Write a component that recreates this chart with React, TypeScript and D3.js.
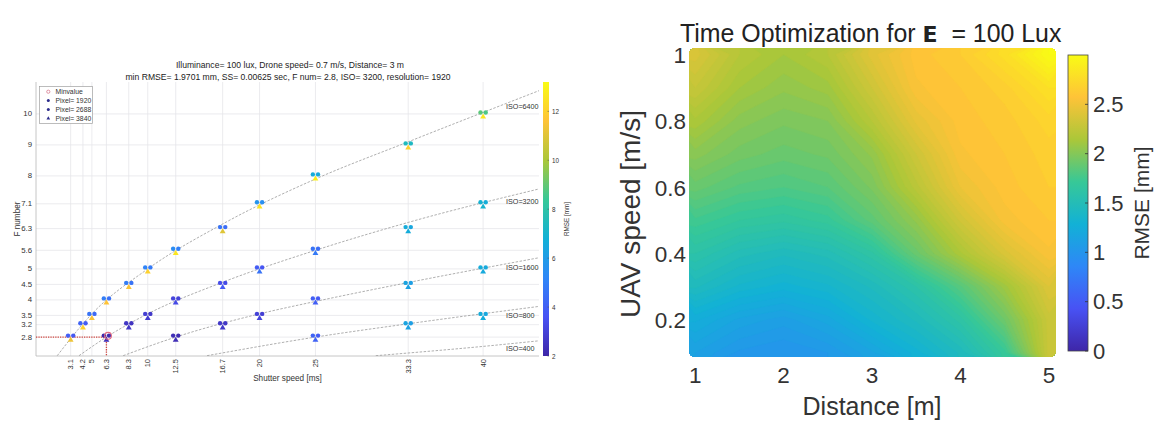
import React from 'react';
import * as d3 from 'd3';

const W = 1176;
const H = 425;
const FONT = '"Liberation Sans", Arial, Helvetica, sans-serif';

// ---------- Left chart data ----------
const shutterTicks = [3.1, 4.2, 5, 6.3, 8.3, 10, 12.5, 16.7, 20, 25, 33.3, 40];
const fnumTicks = [2.8, 3.2, 3.5, 4, 4.5, 5, 5.6, 6.3, 7.1, 8, 9, 10];
const rmseTicksLeft = [2, 4, 6, 8, 10, 12];

const iso6400Shutter = [3.1, 4.2, 5, 6.3, 8.3, 10, 12.5, 16.7, 20, 25, 33.3, 40];
const iso6400Fnum = [2.8, 3.2, 3.5, 4, 4.5, 5, 5.6, 6.3, 7.1, 8, 9, 10];
const iso6400Rmse1920 = [4.0, 4.1, 4.6, 4.9, 4.9, 5.1, 5.4, 4.6, 5.7, 6.6, 7.4, 8.9];
const iso6400Rmse2688 = [3.8, 3.9, 4.3, 4.5, 4.6, 4.8, 5.0, 4.4, 5.5, 6.5, 7.3, 8.7];
const iso6400Rmse3840 = [11.3, 12.0, 11.5, 11.6, 11.5, 12.0, 12.6, 11.0, 12.5, 12.8, 12.0, 12.6];

const iso3200Shutter = [6.3, 8.3, 10, 12.5, 16.7, 20, 25, 33.3, 40];
const iso3200Fnum = [2.8, 3.2, 3.5, 4, 4.5, 5, 5.6, 6.3, 7.1];
const iso3200Rmse1920 = [1.97, 2.6, 2.9, 3.1, 3.4, 3.9, 4.6, 6.6, 6.9];
const iso3200Rmse2688 = [2.2, 2.5, 2.7, 3.0, 3.3, 3.7, 4.4, 6.4, 6.7];
const iso3200Rmse3840 = [2.3, 2.6, 2.8, 3.3, 3.8, 4.6, 4.8, 6.6, 7.0];

const iso1600Shutter = [12.5, 16.7, 20, 25, 33.3, 40];
const iso1600Fnum = [2.8, 3.2, 3.5, 4, 4.5, 5];
const iso1600Rmse1920 = [2.3, 2.7, 3.0, 4.0, 6.3, 6.6];
const iso1600Rmse2688 = [2.2, 2.6, 2.9, 3.8, 6.1, 6.5];
const iso1600Rmse3840 = [2.3, 2.7, 3.1, 4.0, 6.2, 6.5];

const iso800Shutter = [25, 33.3, 40];
const iso800Fnum = [2.8, 3.2, 3.5];
const iso800Rmse1920 = [4.1, 6.3, 6.6];
const iso800Rmse2688 = [3.9, 6.1, 6.4];
const iso800Rmse3840 = [4.1, 6.2, 6.6];

// dashed ISO curves
const iso6400CurveT = [1.9, 5, 10, 16.7, 25, 33.3, 45];
const iso6400CurveF = [2.2, 3.55, 5.0, 6.45, 7.9, 9.1, 10.75];
const iso3200CurveT = [3.85, 6.3, 10, 16.7, 25, 33.3, 45];
const iso3200CurveF = [2.2, 2.8, 3.55, 4.57, 5.6, 6.5, 7.58];
const iso1600CurveT = [7.8, 12.5, 20, 25, 33.3, 45];
const iso1600CurveF = [2.2, 2.8, 3.55, 3.95, 4.56, 5.36];
const iso800CurveT = [15.3, 25, 33.3, 45];
const iso800CurveF = [2.2, 2.8, 3.23, 3.79];
const iso400CurveT = [30.4, 40, 45];
const iso400CurveF = [2.2, 2.5, 2.68];

const isoLabels = ['ISO=6400', 'ISO=3200', 'ISO=1600', 'ISO=800', 'ISO=400'];
const isoLabelF = [10.23, 7.16, 5.03, 3.49, 2.42];

const legendLabels = ['Minvalue', 'Pixel= 1920', 'Pixel= 2688', 'Pixel= 3840'];
const minShutter = 6.3;
const minFnum = 2.8;

// ---------- Right chart data ----------
const distances = [1, 1.5, 2, 2.5, 3, 3.5, 4, 4.5, 5];
const speeds = [1.0, 0.9, 0.8, 0.7, 0.6, 0.5, 0.4, 0.3, 0.2, 0.1];
const rmseV10 = [2.38, 2.2, 2.12, 2.2, 2.42, 2.58, 2.64, 2.78, 3.0];
const rmseV09 = [2.28, 2.12, 2.05, 2.1, 2.32, 2.55, 2.6, 2.66, 2.8];
const rmseV08 = [2.15, 2.02, 1.97, 2.0, 2.2, 2.45, 2.58, 2.62, 2.7];
const rmseV07 = [2.02, 1.94, 1.9, 1.93, 2.05, 2.32, 2.55, 2.6, 2.66];
const rmseV06 = [1.9, 1.83, 1.8, 1.84, 1.97, 2.22, 2.48, 2.58, 2.64];
const rmseV05 = [1.75, 1.68, 1.65, 1.7, 1.86, 2.05, 2.33, 2.54, 2.6];
const rmseV04 = [1.6, 1.5, 1.45, 1.5, 1.63, 1.9, 2.15, 2.38, 2.55];
const rmseV03 = [1.45, 1.35, 1.3, 1.35, 1.45, 1.6, 1.83, 2.1, 2.4];
const rmseV02 = [1.25, 1.15, 1.1, 1.18, 1.33, 1.45, 1.62, 1.92, 2.3];
const rmseV01 = [1.12, 1.03, 1.0, 1.04, 1.15, 1.3, 1.45, 1.7, 2.3];
const distTicks = [1, 2, 3, 4, 5];
const speedTicks = [0.2, 0.4, 0.6, 0.8, 1];
const rmseTicksRight = [0, 0.5, 1, 1.5, 2, 2.5];

// parula colormap stops
const PARULA = [
  'rgb(62,38,168)', 'rgb(72,82,244)', 'rgb(46,135,247)', 'rgb(18,177,214)',
  'rgb(55,200,151)', 'rgb(171,199,57)', 'rgb(254,195,56)', 'rgb(249,251,21)',
];
function parulaScale(lo: number, hi: number) {
  return d3
    .scaleLinear<string>()
    .domain(PARULA.map((_, i) => lo + (i * (hi - lo)) / (PARULA.length - 1)))
    .range(PARULA)
    .interpolate(d3.interpolateRgb)
    .clamp(true);
}

export default function App() {
  const x = d3.scaleLinear().domain([0, 45]).range([36, 539]);
  const y = d3.scaleLinear().domain([2.19, 11.03]).range([356, 82]);
  const cL = parulaScale(2, 13.2);
  const cbL = d3.scaleLinear().domain([2, 13.2]).range([356, 82]);

  const groups = [
    { t: iso6400Shutter, f: iso6400Fnum, a: iso6400Rmse1920, b: iso6400Rmse2688, c: iso6400Rmse3840 },
    { t: iso3200Shutter, f: iso3200Fnum, a: iso3200Rmse1920, b: iso3200Rmse2688, c: iso3200Rmse3840 },
    { t: iso1600Shutter, f: iso1600Fnum, a: iso1600Rmse1920, b: iso1600Rmse2688, c: iso1600Rmse3840 },
    { t: iso800Shutter, f: iso800Fnum, a: iso800Rmse1920, b: iso800Rmse2688, c: iso800Rmse3840 },
  ];
  const curves = [
    [iso6400CurveT, iso6400CurveF],
    [iso3200CurveT, iso3200CurveF],
    [iso1600CurveT, iso1600CurveF],
    [iso800CurveT, iso800CurveF],
    [iso400CurveT, iso400CurveF],
  ];
  const curveGen = d3
    .line<[number, number]>()
    .x((d) => x(d[0]))
    .y((d) => y(d[1]))
    .curve(d3.curveMonotoneX);
  const tri = d3.symbol().type(d3.symbolTriangle).size(15);

  const xr = d3.scaleLinear().domain([0.93, 5.08]).range([689, 1056]);
  const yr = d3.scaleLinear().domain([0.087, 1.02]).range([357, 48]);
  const cR = parulaScale(0, 3);
  const cbR = d3.scaleLinear().domain([0, 3]).range([351, 55]);

  const grid = [rmseV10, rmseV09, rmseV08, rmseV07, rmseV06, rmseV05, rmseV04, rmseV03, rmseV02, rmseV01];
  const values = grid.flat();
  const nx = distances.length;
  const ny = speeds.length;
  const dStep = distances[1] - distances[0];
  const sStep = speeds[0] - speeds[1];
  const step = 0.04;
  const thresholds = d3.range(0.8, 3.05, step);
  const contours = d3.contours().size([nx, ny]).thresholds(thresholds)(values);
  const proj = d3.geoTransform({
    point(px: number, py: number) {
      // @ts-ignore
      this.stream.point(xr(distances[0] + (px - 0.5) * dStep), yr(speeds[0] - (py - 0.5) * sStep));
    },
  });
  const geoPath = d3.geoPath(proj as any);

  const plotL = { x0: 36, x1: 539, y0: 82, y1: 356 };
  const plotR = { x0: 689, x1: 1056, y0: 48, y1: 357 };

  const minX = x(minShutter);
  const minY = y(minFnum);

  return (
    <div style={{ position: 'absolute', left: 0, top: 0 }}>
      <svg width={W} height={H} style={{ display: 'block', background: '#fff' }} fontFamily={FONT}>
        <defs>
          <linearGradient id="parula" x1="0" y1="1" x2="0" y2="0">
            {PARULA.map((c, i) => (
              <stop key={i} offset={i / (PARULA.length - 1)} stopColor={c} />
            ))}
          </linearGradient>
          <clipPath id="clipL">
            <rect x={plotL.x0} y={plotL.y0} width={plotL.x1 - plotL.x0} height={plotL.y1 - plotL.y0} />
          </clipPath>
          <clipPath id="clipR">
            <rect x={plotR.x0} y={plotR.y0} width={plotR.x1 - plotR.x0} height={plotR.y1 - plotR.y0} rx={6} />
          </clipPath>
        </defs>

        {/* ================= LEFT CHART ================= */}
        <g>
          {shutterTicks.map((t) => (
            <line key={'gx' + t} x1={x(t)} x2={x(t)} y1={plotL.y0} y2={plotL.y1} stroke="#e6e6ea" strokeWidth={0.8} />
          ))}
          {fnumTicks.map((f) => (
            <line key={'gy' + f} x1={plotL.x0} x2={plotL.x1} y1={y(f)} y2={y(f)} stroke="#e6e6ea" strokeWidth={0.8} />
          ))}
          <line x1={plotL.x0} x2={plotL.x0} y1={plotL.y0} y2={plotL.y1} stroke="#b8b8b8" strokeWidth={0.8} />
          <line x1={plotL.x0} x2={plotL.x1} y1={plotL.y1} y2={plotL.y1} stroke="#b8b8b8" strokeWidth={0.8} />

          <g clipPath="url(#clipL)">
            {curves.map(([ts, fs], i) => (
              <path
                key={'c' + i}
                d={curveGen(ts.map((t, k) => [t, fs[k]] as [number, number])) || ''}
                fill="none"
                stroke="#9a9a9a"
                strokeWidth={0.8}
                strokeDasharray="2.5 1.5"
              />
            ))}
            {/* min value dotted lines */}
            <line x1={plotL.x0} x2={minX} y1={minY} y2={minY} stroke="#d0453e" strokeWidth={1.3} strokeDasharray="1.3 1.1" />
            <line x1={minX} x2={minX} y1={minY} y2={plotL.y1} stroke="#d0453e" strokeWidth={1.3} strokeDasharray="1.3 1.1" />
          </g>

          {groups.map((g, gi) =>
            g.t.map((t, k) => {
              const cx = x(t);
              const cy = y(g.f[k]);
              return (
                <g key={'m' + gi + '-' + k}>
                  <circle cx={cx - 2.6} cy={cy - 1.5} r={2.2} fill={cL(g.a[k])} />
                  <circle cx={cx + 2.6} cy={cy - 1.5} r={2.2} fill={cL(g.b[k])} />
                  <path d={tri() || ''} transform={`translate(${cx},${cy + 3})`} fill={cL(g.c[k])} />
                </g>
              );
            })
          )}
          <circle cx={minX + 1.6} cy={minY - 1.3} r={3.4} fill="none" stroke="#e06a80" strokeWidth={1.1} />

          {isoLabels.map((s, i) => (
            <text key={s} x={506} y={y(isoLabelF[i])} fontSize={7.2} fill="#333" dominantBaseline="central">
              {s}
            </text>
          ))}

          {fnumTicks.map((f) => (
            <text key={'ty' + f} x={32} y={y(f)} fontSize={7.8} fill="#333" textAnchor="end" dominantBaseline="central">
              {f}
            </text>
          ))}
          {shutterTicks.map((t) => (
            <text
              key={'tx' + t}
              transform={`translate(${x(t)},359) rotate(-90)`}
              fontSize={7.5}
              fill="#333"
              textAnchor="end"
              dominantBaseline="central"
            >
              {t}
            </text>
          ))}
          <text x={(plotL.x0 + plotL.x1) / 2} y={378} fontSize={8.2} fill="#333" textAnchor="middle" dominantBaseline="central">
            Shutter speed [ms]
          </text>
          <text transform={`translate(17,219) rotate(-90)`} fontSize={8.2} fill="#333" textAnchor="middle" dominantBaseline="central">
            F number
          </text>

          <text x={290} y={65} fontSize={8.6} fill="#222" textAnchor="middle" dominantBaseline="central">
            Illuminance= 100 lux, Drone speed= 0.7 m/s, Distance= 3 m
          </text>
          <text x={288} y={76.5} fontSize={8.6} fill="#222" textAnchor="middle" dominantBaseline="central">
            min RMSE= 1.9701 mm, SS= 0.00625 sec, F num= 2.8, ISO= 3200, resolution= 1920
          </text>

          <rect x={39.5} y={86.5} width={53} height={37} fill="#fff" stroke="#a0a0a0" strokeWidth={0.7} />
          {legendLabels.map((s, i) => {
            const ly = 91.7 + i * 8.9;
            return (
              <g key={s}>
                {i === 0 && <circle cx={48.3} cy={ly} r={1.6} fill="none" stroke="#d77a8e" strokeWidth={0.8} />}
                {(i === 1 || i === 2) && <circle cx={48.3} cy={ly} r={1.5} fill="#2c2c8c" />}
                {i === 3 && <path d={d3.symbol().type(d3.symbolTriangle).size(6)() || ''} transform={`translate(48.3,${ly})`} fill="#2c2c8c" />}
                <text x={55.5} y={ly} fontSize={6.8} fill="#333" dominantBaseline="central">
                  {s}
                </text>
              </g>
            );
          })}

          <rect x={543} y={cbL(13.2)} width={6} height={cbL(2) - cbL(13.2)} fill="url(#parula)" />
          {rmseTicksLeft.map((v) => (
            <g key={'cbl' + v}>
              <line x1={547.5} x2={549} y1={cbL(v)} y2={cbL(v)} stroke="#555" strokeWidth={0.6} />
              <text x={552} y={cbL(v)} fontSize={6.3} fill="#333" dominantBaseline="central">
                {v}
              </text>
            </g>
          ))}
          <text transform={`translate(566,219) rotate(-90)`} fontSize={6.3} fill="#333" textAnchor="middle" dominantBaseline="central">
            RMSE [mm]
          </text>
        </g>

        {/* ================= RIGHT CHART ================= */}
        <g>
          <g clipPath="url(#clipR)">
            <rect x={plotR.x0} y={plotR.y0} width={plotR.x1 - plotR.x0} height={plotR.y1 - plotR.y0} fill={cR(1.0)} />
            {contours.map((c, i) => (
              <path key={'hc' + i} d={geoPath(c as any) || ''} fill={cR(c.value + step / 2)} stroke={cR(c.value + step / 2)} strokeWidth={0.5} />
            ))}
          </g>

          <text x={680} y={42} fontSize={24.9} fill="#222">
            {'Time Optimization for '}
            <tspan fontWeight="bold" fontFamily='"DejaVu Sans", sans-serif' fontSize={22}>E</tspan>
            {'\u00A0\u00A0= 100 Lux'}
          </text>

          {speedTicks.map((v) => (
            <text key={'rty' + v} x={686} y={yr(v) + 1} fontSize={22.5} fill="#333" textAnchor="end" dominantBaseline="central">
              {v}
            </text>
          ))}
          {distTicks.map((d) => (
            <text key={'rtx' + d} x={xr(d)} y={383} fontSize={22.5} fill="#333" textAnchor="middle">
              {d}
            </text>
          ))}
          <text transform={`translate(630,214) rotate(-90)`} fontSize={28} fill="#333" textAnchor="middle" dominantBaseline="central">
            UAV speed [m/s]
          </text>
          <text x={872} y={415} fontSize={25} fill="#333" textAnchor="middle">
            Distance [m]
          </text>

          <rect x={1068} y={cbR(3)} width={20} height={cbR(0) - cbR(3)} fill="url(#parula)" stroke="#444" strokeWidth={0.8} />
          {rmseTicksRight.map((v) => (
            <g key={'cbr' + v}>
              <line x1={1085} x2={1088} y1={cbR(v)} y2={cbR(v)} stroke="#333" strokeWidth={0.8} />
              <text x={1093} y={cbR(v)} fontSize={22} fill="#333" dominantBaseline="central">
                {v}
              </text>
            </g>
          ))}
          <text transform={`translate(1141,203) rotate(-90)`} fontSize={21} fill="#333" textAnchor="middle" dominantBaseline="central">
            RMSE [mm]
          </text>
        </g>
      </svg>
    </div>
  );
}
